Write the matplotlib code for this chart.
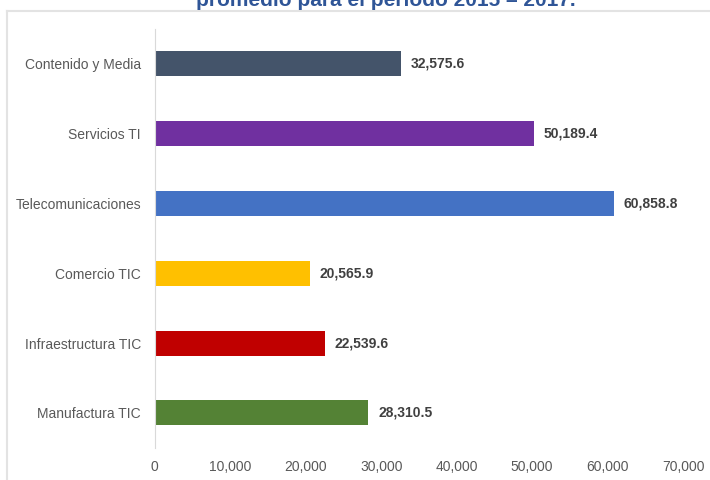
import matplotlib
matplotlib.use('Agg')
import matplotlib.pyplot as plt
from matplotlib.lines import Line2D
from matplotlib.ticker import FuncFormatter

# datos del grafico (de arriba hacia abajo)
categorias = ['Contenido y Media', 'Servicios TI', 'Telecomunicaciones',
              'Comercio TIC', 'Infraestructura TIC', 'Manufactura TIC']
valores = [32575.6, 50189.4, 60858.8, 20565.9, 22539.6, 28310.5]
colores = ['#44546A', '#7030A0', '#4472C4', '#FFC000', '#C00000', '#548235']
ticks_x = [0, 10000, 20000, 30000, 40000, 50000, 60000, 70000]

plt.rcParams['font.family'] = ['Liberation Sans', 'DejaVu Sans']

fig = plt.figure(figsize=(7.1, 4.8), dpi=100)
ax = fig.add_axes([0.218, 0.067, 0.744, 0.873])

pos = list(range(len(categorias)))
ax.barh(pos, valores, height=0.36, color=colores)
for p, v in zip(pos, valores):
    ax.text(v + 1300, p, f'{v:,.1f}', va='center', ha='left',
            fontsize=10, fontweight='bold', color='#404040')

ax.set_ylim(len(categorias) - 0.5, -0.5)
ax.set_xlim(0, 70000)
ax.set_yticks(pos)
ax.set_yticklabels(categorias, fontsize=10, color='#595959')
ax.set_xticks(ticks_x)
ax.xaxis.set_major_formatter(FuncFormatter(lambda x, _: f'{x:,.0f}'))
ax.tick_params(axis='x', labelsize=10, colors='#595959', length=0, pad=9)
ax.tick_params(axis='y', length=0, pad=10)
for s in ['top', 'right', 'bottom']:
    ax.spines[s].set_visible(False)
ax.spines['left'].set_color('#D9D9D9')

# titulo cortado y marco de pagina
fig.text(0.543, 0.988, 'promedio para el período 2015 – 2017.', ha='center',
         va='baseline', fontsize=15, fontweight='bold', color='#2F5597')
fig.add_artist(Line2D([0.01, 1.0], [0.977, 0.977], color='#E3E3E3', lw=1.5))
fig.add_artist(Line2D([0.01, 0.01], [0.0, 0.977], color='#E3E3E3', lw=1.5))

fig.savefig('out.png', dpi=100)
